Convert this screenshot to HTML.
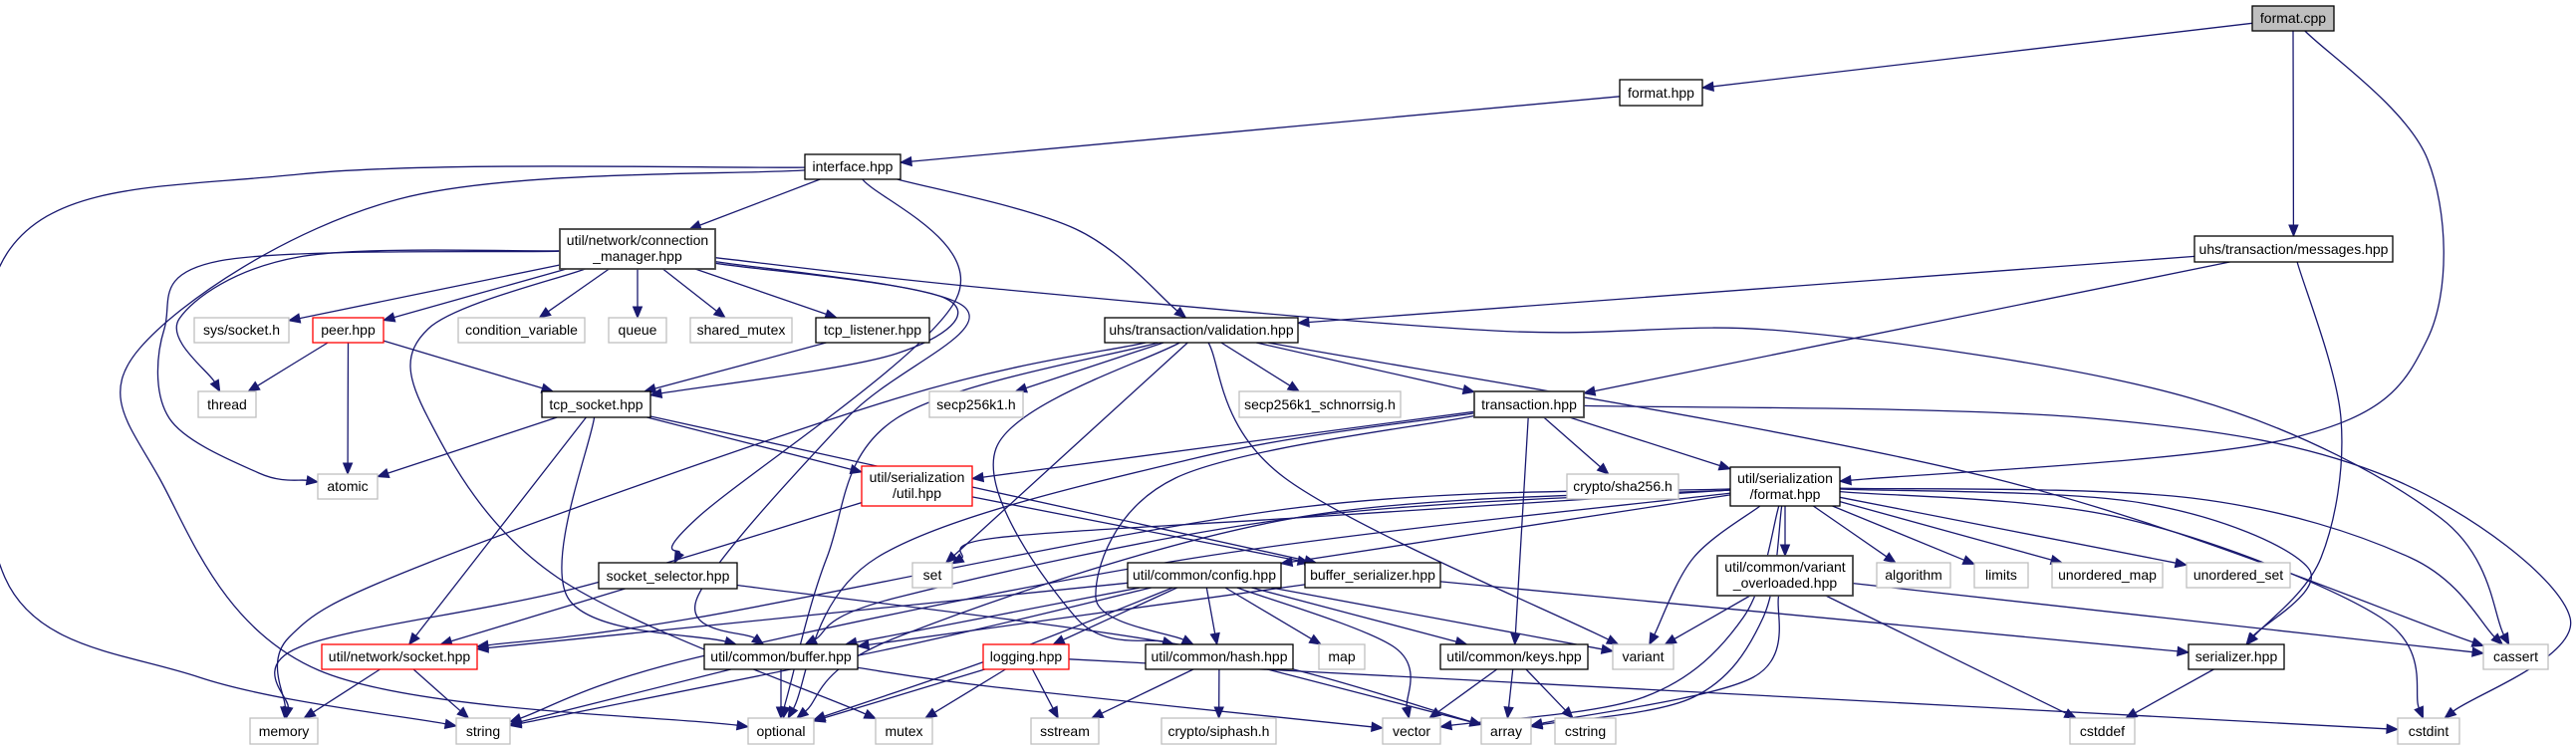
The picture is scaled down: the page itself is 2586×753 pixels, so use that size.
<!DOCTYPE html>
<html><head><meta charset="utf-8"><style>
html,body{margin:0;padding:0;background:#fff;}
svg{display:block;}
text{font-family:"Liberation Sans",sans-serif;font-size:14px;fill:#000;}
</style></head><body>
<svg id="g" width="2586" height="753" xmlns="http://www.w3.org/2000/svg">
<g id="edges" fill="none" stroke="#191970" stroke-width="1.3"></g>
<g id="arrows" fill="#191970" stroke="#191970" stroke-width="1"></g>
<g id="nodes">
<rect x="2261" y="6" width="82" height="25" fill="#bfbfbf" stroke="#000" stroke-width="1.3"/><text x="2302" y="23" text-anchor="middle">format.cpp</text>
<rect x="1626" y="80" width="83" height="26" fill="#fff" stroke="#000" stroke-width="1.3"/><text x="1667.5" y="98" text-anchor="middle">format.hpp</text>
<rect x="808" y="155" width="96" height="25" fill="#fff" stroke="#000" stroke-width="1.3"/><text x="856" y="172" text-anchor="middle">interface.hpp</text>
<rect x="562" y="230" width="156" height="40" fill="#fff" stroke="#404040" stroke-width="1.8"/><text x="640" y="246" text-anchor="middle">util/network/connection</text><text x="640" y="262" text-anchor="middle">_manager.hpp</text>
<rect x="2203" y="237" width="199" height="26" fill="#fff" stroke="#000" stroke-width="1.3"/><text x="2302.5" y="255" text-anchor="middle">uhs/transaction/messages.hpp</text>
<rect x="195" y="319" width="95" height="25" fill="#fff" stroke="#bfbfbf" stroke-width="1.3"/><text x="242.5" y="336" text-anchor="middle">sys/socket.h</text>
<rect x="314" y="319" width="71" height="25" fill="#fff" stroke="#ff0000" stroke-width="1.3"/><text x="349.5" y="336" text-anchor="middle">peer.hpp</text>
<rect x="460" y="319" width="127" height="25" fill="#fff" stroke="#bfbfbf" stroke-width="1.3"/><text x="523.5" y="336" text-anchor="middle">condition_variable</text>
<rect x="611" y="319" width="58" height="25" fill="#fff" stroke="#bfbfbf" stroke-width="1.3"/><text x="640" y="336" text-anchor="middle">queue</text>
<rect x="693" y="319" width="102" height="25" fill="#fff" stroke="#bfbfbf" stroke-width="1.3"/><text x="744" y="336" text-anchor="middle">shared_mutex</text>
<rect x="819" y="319" width="114" height="25" fill="#fff" stroke="#000" stroke-width="1.3"/><text x="876" y="336" text-anchor="middle">tcp_listener.hpp</text>
<rect x="1109" y="319" width="194" height="25" fill="#fff" stroke="#000" stroke-width="1.3"/><text x="1206" y="336" text-anchor="middle">uhs/transaction/validation.hpp</text>
<rect x="199" y="393" width="58" height="26" fill="#fff" stroke="#bfbfbf" stroke-width="1.3"/><text x="228" y="411" text-anchor="middle">thread</text>
<rect x="544" y="393" width="109" height="26" fill="#fff" stroke="#000" stroke-width="1.3"/><text x="598.5" y="411" text-anchor="middle">tcp_socket.hpp</text>
<rect x="933" y="393" width="94" height="26" fill="#fff" stroke="#bfbfbf" stroke-width="1.3"/><text x="980" y="411" text-anchor="middle">secp256k1.h</text>
<rect x="1244" y="393" width="162" height="26" fill="#fff" stroke="#bfbfbf" stroke-width="1.3"/><text x="1325" y="411" text-anchor="middle">secp256k1_schnorrsig.h</text>
<rect x="1480" y="393" width="110" height="26" fill="#fff" stroke="#404040" stroke-width="1.8"/><text x="1535" y="411" text-anchor="middle">transaction.hpp</text>
<rect x="319" y="476" width="60" height="25" fill="#fff" stroke="#bfbfbf" stroke-width="1.3"/><text x="349" y="493" text-anchor="middle">atomic</text>
<rect x="865" y="468" width="111" height="40" fill="#fff" stroke="#ff0000" stroke-width="1.3"/><text x="920.5" y="484" text-anchor="middle">util/serialization</text><text x="920.5" y="500" text-anchor="middle">/util.hpp</text>
<rect x="1573" y="476" width="112" height="25" fill="#fff" stroke="#bfbfbf" stroke-width="1.3"/><text x="1629" y="493" text-anchor="middle">crypto/sha256.h</text>
<rect x="1737" y="469" width="110" height="39" fill="#fff" stroke="#000" stroke-width="1.3"/><text x="1792" y="485" text-anchor="middle">util/serialization</text><text x="1792" y="501" text-anchor="middle">/format.hpp</text>
<rect x="916" y="565" width="40" height="25" fill="#fff" stroke="#bfbfbf" stroke-width="1.3"/><text x="936" y="582" text-anchor="middle">set</text>
<rect x="601" y="565" width="139" height="26" fill="#fff" stroke="#000" stroke-width="1.3"/><text x="670.5" y="583" text-anchor="middle">socket_selector.hpp</text>
<rect x="1132" y="565" width="154" height="25" fill="#fff" stroke="#000" stroke-width="1.3"/><text x="1209" y="582" text-anchor="middle">util/common/config.hpp</text>
<rect x="1310" y="565" width="136" height="25" fill="#fff" stroke="#000" stroke-width="1.3"/><text x="1378" y="582" text-anchor="middle">buffer_serializer.hpp</text>
<rect x="1724" y="558" width="136" height="40" fill="#fff" stroke="#404040" stroke-width="1.8"/><text x="1792" y="574" text-anchor="middle">util/common/variant</text><text x="1792" y="590" text-anchor="middle">_overloaded.hpp</text>
<rect x="1884" y="565" width="74" height="25" fill="#fff" stroke="#bfbfbf" stroke-width="1.3"/><text x="1921" y="582" text-anchor="middle">algorithm</text>
<rect x="1982" y="565" width="54" height="25" fill="#fff" stroke="#bfbfbf" stroke-width="1.3"/><text x="2009" y="582" text-anchor="middle">limits</text>
<rect x="2060" y="565" width="111" height="25" fill="#fff" stroke="#bfbfbf" stroke-width="1.3"/><text x="2115.5" y="582" text-anchor="middle">unordered_map</text>
<rect x="2195" y="565" width="104" height="25" fill="#fff" stroke="#bfbfbf" stroke-width="1.3"/><text x="2247" y="582" text-anchor="middle">unordered_set</text>
<rect x="323" y="647" width="156" height="25" fill="#fff" stroke="#ff0000" stroke-width="1.3"/><text x="401" y="664" text-anchor="middle">util/network/socket.hpp</text>
<rect x="707" y="647" width="154" height="25" fill="#fff" stroke="#000" stroke-width="1.3"/><text x="784" y="664" text-anchor="middle">util/common/buffer.hpp</text>
<rect x="987" y="647" width="86" height="25" fill="#fff" stroke="#ff0000" stroke-width="1.3"/><text x="1030" y="664" text-anchor="middle">logging.hpp</text>
<rect x="1150" y="647" width="148" height="25" fill="#fff" stroke="#000" stroke-width="1.3"/><text x="1224" y="664" text-anchor="middle">util/common/hash.hpp</text>
<rect x="1324" y="647" width="46" height="25" fill="#fff" stroke="#bfbfbf" stroke-width="1.3"/><text x="1347" y="664" text-anchor="middle">map</text>
<rect x="1446" y="647" width="148" height="25" fill="#fff" stroke="#000" stroke-width="1.3"/><text x="1520" y="664" text-anchor="middle">util/common/keys.hpp</text>
<rect x="1619" y="647" width="61" height="25" fill="#fff" stroke="#bfbfbf" stroke-width="1.3"/><text x="1649.5" y="664" text-anchor="middle">variant</text>
<rect x="2197" y="647" width="96" height="25" fill="#fff" stroke="#000" stroke-width="1.3"/><text x="2245" y="664" text-anchor="middle">serializer.hpp</text>
<rect x="2493" y="647" width="65" height="25" fill="#fff" stroke="#bfbfbf" stroke-width="1.3"/><text x="2525.5" y="664" text-anchor="middle">cassert</text>
<rect x="251" y="721" width="68" height="26" fill="#fff" stroke="#bfbfbf" stroke-width="1.3"/><text x="285" y="739" text-anchor="middle">memory</text>
<rect x="458" y="721" width="54" height="26" fill="#fff" stroke="#bfbfbf" stroke-width="1.3"/><text x="485" y="739" text-anchor="middle">string</text>
<rect x="751" y="721" width="66" height="26" fill="#fff" stroke="#bfbfbf" stroke-width="1.3"/><text x="784" y="739" text-anchor="middle">optional</text>
<rect x="879" y="721" width="57" height="26" fill="#fff" stroke="#bfbfbf" stroke-width="1.3"/><text x="907.5" y="739" text-anchor="middle">mutex</text>
<rect x="1035" y="721" width="68" height="26" fill="#fff" stroke="#bfbfbf" stroke-width="1.3"/><text x="1069" y="739" text-anchor="middle">sstream</text>
<rect x="1166" y="721" width="115" height="26" fill="#fff" stroke="#bfbfbf" stroke-width="1.3"/><text x="1223.5" y="739" text-anchor="middle">crypto/siphash.h</text>
<rect x="1388" y="721" width="58" height="26" fill="#fff" stroke="#bfbfbf" stroke-width="1.3"/><text x="1417" y="739" text-anchor="middle">vector</text>
<rect x="1487" y="721" width="50" height="26" fill="#fff" stroke="#bfbfbf" stroke-width="1.3"/><text x="1512" y="739" text-anchor="middle">array</text>
<rect x="1561" y="721" width="61" height="26" fill="#fff" stroke="#bfbfbf" stroke-width="1.3"/><text x="1591.5" y="739" text-anchor="middle">cstring</text>
<rect x="2078" y="721" width="65" height="26" fill="#fff" stroke="#bfbfbf" stroke-width="1.3"/><text x="2110.5" y="739" text-anchor="middle">cstddef</text>
<rect x="2407" y="721" width="62" height="26" fill="#fff" stroke="#bfbfbf" stroke-width="1.3"/><text x="2438" y="739" text-anchor="middle">cstdint</text>
</g>
</svg>
<script>
const N={
fcpp:[2261,2343,6,31],fhpp:[1626,1709,80,106],iface:[808,904,155,180],cm:[562,718,230,270],msg:[2203,2402,237,263],
syssock:[195,290,319,344],peer:[314,385,319,344],condvar:[460,587,319,344],queue:[611,669,319,344],shmutex:[693,795,319,344],
tcpl:[819,933,319,344],valid:[1109,1303,319,344],thread:[199,257,393,419],tcps:[544,653,393,419],secp:[933,1027,393,419],
schnorr:[1244,1406,393,419],trans:[1480,1590,393,419],atomic:[319,379,476,501],sutil:[865,976,468,508],sha:[1573,1685,476,501],
sfmt:[1737,1847,469,508],set:[916,956,565,590],sel:[601,740,565,591],config:[1132,1286,565,590],bser:[1310,1446,565,590],
varov:[1724,1860,558,598],algo:[1884,1958,565,590],limits:[1982,2036,565,590],umap:[2060,2171,565,590],uset:[2195,2299,565,590],
nsock:[323,479,647,672],buf:[707,861,647,672],log:[987,1073,647,672],hash:[1150,1298,647,672],map:[1324,1370,647,672],
keys:[1446,1594,647,672],variant:[1619,1680,647,672],ser:[2197,2293,647,672],cassert:[2493,2558,647,672],
memory:[251,319,721,747],string:[458,512,721,747],optional:[751,817,721,747],mutex:[879,936,721,747],sstream:[1035,1103,721,747],
siphash:[1166,1281,721,747],vector:[1388,1446,721,747],array:[1487,1537,721,747],cstring:[1561,1622,721,747],
cstddef:[2078,2143,721,747],cstdint:[2407,2469,721,747]};
const E=[
['fcpp','fhpp'],['fcpp','msg'],['fcpp','sfmt',[[2437,160],[2437,340],[2300,440]]],
['fhpp','iface'],
['iface','cm'],['iface','valid',[[1080,230]]],['iface','sel',[[960,300],[700,520]]],
['iface','string',[[300,175],[10,250],[5,580],[200,680]]],['iface','optional',[[400,200],[140,350],[160,480],[320,673]]],
['cm','syssock'],['cm','peer'],['cm','condvar'],['cm','queue'],['cm','shmutex'],['cm','tcpl'],
['cm','thread',[[300,258],[180,320]]],['cm','atomic',[[220,262],[165,330],[170,420],[260,475]]],['cm','tcps',[[950,300],[900,355]]],
['cm','mutex',[[430,330],[430,420],[560,580]]],['cm','cassert',[[1000,290],[1500,332],[1800,333],[2200,400],[2450,520]]],
['cm','buf',[[970,310],[850,420],[700,600]]],
['peer','thread'],['peer','atomic'],['peer','tcps'],
['tcpl','tcps'],
['tcps','atomic'],['tcps','nsock'],['tcps','buf',[[570,600]]],['tcps','sutil'],['tcps','bser'],
['valid','secp'],['valid','schnorr'],['valid','trans'],['valid','set'],['valid','variant',[[1290,480]]],
['valid','cassert',[[2000,480]]],['valid','memory',[[900,400],[430,565],[290,640]]],['valid','optional',[[900,420],[830,560],[790,700]]],
['valid','hash',[[1000,450],[1080,620]]],
['msg','valid'],['msg','trans'],['msg','ser',[[2350,420],[2330,560]]],
['trans','sutil'],['trans','sha'],['trans','sfmt'],['trans','keys'],['trans','hash',[[1180,480],[1100,600]]],
['trans','optional',[[1200,460],[880,560]]],['trans','cstdint',[[2100,420],[2400,480],[2580,620]]],
['sutil','bser'],['sutil','memory',[[580,590],[300,650]]],
['sfmt','config'],['sfmt','set',[[1300,520],[1000,540]]],['sfmt','variant',[[1700,560]]],['sfmt','buf',[[1300,520],[900,600]]],
['sfmt','nsock',[[1300,510],[700,620]]],['sfmt','optional',[[1300,520],[900,640]]],['sfmt','string',[[1200,560],[700,660]]],
['sfmt','array',[[1770,620],[1700,700]]],['sfmt','vector',[[1750,620],[1650,700]]],
['sfmt','ser',[[2150,505],[2317,570]]],['sfmt','cstdint',[[2130,520],[2390,620]]],['sfmt','cassert',[[2200,500],[2420,560]]],
['sfmt','algo'],['sfmt','limits'],['sfmt','umap'],['sfmt','uset'],['sfmt','varov'],
['sel','nsock'],['sel','array',[[1200,650]]],
['config','nsock'],['config','string',[[900,650]]],['config','buf'],['config','log'],['config','hash'],['config','map'],
['config','keys'],['config','variant'],['config','vector',[[1400,650]]],['config','optional',[[1000,660]]],
['bser','buf'],['bser','ser'],
['varov','variant'],['varov','cassert'],['varov','cstddef'],['varov','array',[[1760,680]]],
['nsock','memory'],['nsock','string'],
['buf','string'],['buf','optional'],['buf','vector',[[1000,690]]],
['log','optional'],['log','mutex'],['log','sstream'],['log','cstdint',[[1800,700]]],
['hash','sstream'],['hash','siphash'],['hash','array'],
['keys','vector'],['keys','array'],['keys','cstring'],
['ser','cstddef']];
function cen(b){return[(b[0]+b[1])/2,(b[2]+b[3])/2];}
function clip(b,q){const c=cen(b),hw=(b[1]-b[0])/2,hh=(b[3]-b[2])/2;const dx=q[0]-c[0],dy=q[1]-c[1];
let t=1;if(Math.abs(dx)>1e-6)t=Math.min(t,hw/Math.abs(dx));if(Math.abs(dy)>1e-6)t=Math.min(t,hh/Math.abs(dy));return[c[0]+dx*t,c[1]+dy*t];}
const eg=document.getElementById('edges'),ag=document.getElementById('arrows');const NS='http://www.w3.org/2000/svg';
E.forEach(e=>{const A=N[e[0]],B=N[e[1]],w=e[2]||[];
const first=w.length?w[0]:cen(B),last=w.length?w[w.length-1]:cen(A);
const s=clip(A,first),t=clip(B,last);
let d=[t[0]-last[0],t[1]-last[1]];if(!w.length)d=[t[0]-s[0],t[1]-s[1]];
const L=Math.hypot(d[0],d[1])||1;d=[d[0]/L,d[1]/L];
const al=11,aw=4.5;const base=[t[0]-d[0]*al,t[1]-d[1]*al];
const P=[s,...w,base];let p='M'+P[0][0].toFixed(1)+','+P[0][1].toFixed(1);
for(let i=0;i<P.length-1;i++){const p0=P[i-1]||P[i],p1=P[i],p2=P[i+1],p3=P[i+2]||P[i+1];
const c1=[p1[0]+(p2[0]-p0[0])/6,p1[1]+(p2[1]-p0[1])/6],c2=[p2[0]-(p3[0]-p1[0])/6,p2[1]-(p3[1]-p1[1])/6];
p+=' C'+c1.map(v=>v.toFixed(1)).join(',')+' '+c2.map(v=>v.toFixed(1)).join(',')+' '+p2.map(v=>v.toFixed(1)).join(',');}
const pa=document.createElementNS(NS,'path');pa.setAttribute('d',p);eg.appendChild(pa);
const n=[-d[1],d[0]];const tri=document.createElementNS(NS,'polygon');
tri.setAttribute('points',[t,[base[0]+n[0]*aw,base[1]+n[1]*aw],[base[0]-n[0]*aw,base[1]-n[1]*aw]].map(q=>q[0].toFixed(1)+','+q[1].toFixed(1)).join(' '));ag.appendChild(tri);});
</script>
</body></html>
